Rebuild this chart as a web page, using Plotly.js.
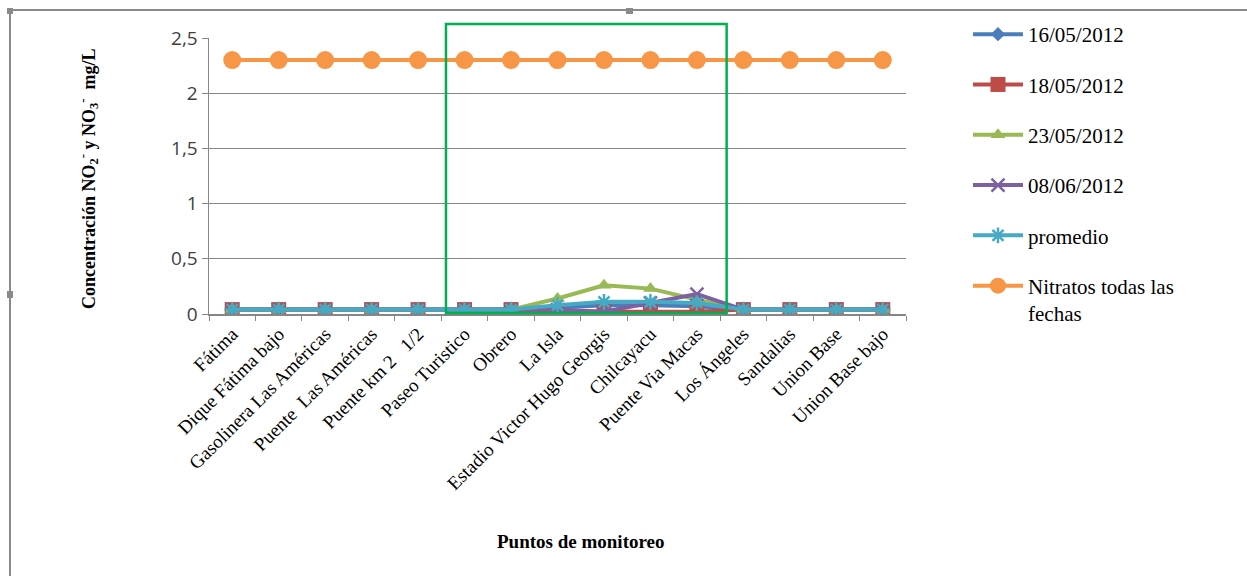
<!DOCTYPE html>
<html><head><meta charset="utf-8">
<script src="https://cdn.plot.ly/plotly-3.0.1.min.js"></script>
<style>html,body{margin:0;padding:0;background:#fff}</style>
</head><body><div id="chart" style="width:1247px;height:576px"></div>
<script>
const categories = ["Fátima","Dique Fátima bajo","Gasolinera Las Américas","Puente\u00a0 Las Américas","Puente km 2 \u00a0 1/2","Paseo Turistico","Obrero","La Isla","Estadio Victor Hugo Georgis","Chilcayacu","Puente Via Macas","Los Ángeles","Sandalias","Union Base","Union Base bajo"];
const seriesNames = ["16/05/2012","18/05/2012","23/05/2012","08/06/2012","promedio","Nitratos todas las<br>fechas"];
const d16 = [0.04,0.04,0.04,0.04,0.04,0.04,0.04,0.06,0.08,0.08,0.07,0.04,0.04,0.04,0.04];
const d18 = [0.04,0.04,0.04,0.04,0.04,0.04,0.04,0.02,0.02,0.02,0.02,0.04,0.04,0.04,0.04];
const d23 = [0.04,0.04,0.04,0.04,0.04,0.04,0.04,0.14,0.26,0.23,0.13,0.04,0.04,0.04,0.04];
const d08 = [0.04,0.04,0.04,0.04,0.04,0.04,0.04,0.04,0.02,0.10,0.18,0.04,0.04,0.04,0.04];
const promedio = [0.04,0.04,0.04,0.04,0.04,0.04,0.04,0.08,0.11,0.11,0.10,0.04,0.04,0.04,0.04];
const nitratos = [2.3,2.3,2.3,2.3,2.3,2.3,2.3,2.3,2.3,2.3,2.3,2.3,2.3,2.3,2.3];
const yTicks = [0,0.5,1,1.5,2,2.5];

const colors = ["#4A7EBB","#BE4B48","#98B954","#7D60A0","#46AAC5","#F79646"];
const symbols = ["diamond","square","triangle-up","x-thin-open","asterisk-open","circle"];
const sizes = [11,15,13,13,13,18];
const data = [d16,d18,d23,d08,promedio,nitratos];

const traces = data.map((ys,i)=>({
  type:"scatter", mode:"lines+markers", x:categories, y:ys, name:seriesNames[i],
  legendgroup:"g"+i,
  line:{color:colors[i], width:4},
  marker:{symbol:symbols[i], size:sizes[i], color:colors[i],
          line:{color:colors[i], width:(i===3||i===4)?2.5:0}}
}));

const L=209, R=906, T=38, B=314, W=1247, H=576;
const px = x => (x-L)/(R-L);
const py = y => (B-y)/(B-T);

const layout = {
  width:W, height:H,
  margin:{l:L, r:W-R, t:T, b:H-B},
  paper_bgcolor:"#fff", plot_bgcolor:"#fff",
  separators:",.",
  showlegend:true,
  legend:{xref:"container", yref:"container", x:968/W, y:1-14/H, xanchor:"left", yanchor:"top",
          font:{family:"Liberation Serif", size:21, color:"#000"}, maxheight:400,
          traceorder:"grouped", tracegroupgap:20, itemwidth:50, valign:"top", bgcolor:"rgba(0,0,0,0)"},
  xaxis:{type:"category", range:[-0.5,14.5], tickangle:-45, tickson:"boundaries",
         ticks:"outside", ticklen:5, tickcolor:"#868686", showline:true, linecolor:"#868686", linewidth:1.5,
         showgrid:false, zeroline:false, automargin:false,
         tickfont:{family:"Liberation Serif", size:19, color:"#000"}},
  yaxis:{range:[0,2.5], tickvals:yTicks, ticks:"outside", ticklen:6, tickcolor:"#868686",
         showline:true, linecolor:"#868686", linewidth:1.5, showgrid:true, gridcolor:"#868686", gridwidth:1,
         zeroline:false, automargin:false,
         tickfont:{family:"Open Sans, Liberation Sans", size:19, color:"#404040"}},
  annotations:[
    {text:"<b>Concentración NO<sub>2</sub><sup>-</sup> y NO<sub>3</sub><sup>-</sup>  mg/L</b>", xref:"paper", yref:"paper",
     x:px(88), y:py(178), textangle:-90, showarrow:false, xanchor:"center", yanchor:"middle",
     font:{family:"Liberation Serif", size:18, color:"#000"}},
    {text:"<b>Puntos de monitoreo</b>", xref:"paper", yref:"paper", x:px(580), y:py(541),
     showarrow:false, xanchor:"center", yanchor:"middle",
     font:{family:"Liberation Serif", size:19, color:"#000"}}
  ],
  shapes:[
    {type:"rect", xref:"x", yref:"paper", x0:4.6, x1:10.64, y0:py(313), y1:py(24), line:{color:"#00B050", width:2.5}, layer:"above"},
    {type:"line", xref:"paper", yref:"paper", x0:px(10), x1:px(1247), y0:py(10), y1:py(10), line:{color:"#8a8a8a", width:2}},
    {type:"line", xref:"paper", yref:"paper", x0:px(10), x1:px(10), y0:py(10), y1:py(576), line:{color:"#8a8a8a", width:2}},
    {type:"rect", xref:"paper", yref:"paper", x0:px(626), x1:px(633), y0:py(8), y1:py(14), fillcolor:"#8a8a8a", line:{width:0}},
    {type:"rect", xref:"paper", yref:"paper", x0:px(7), x1:px(13), y0:py(291), y1:py(298), fillcolor:"#8a8a8a", line:{width:0}},
    {type:"rect", xref:"paper", yref:"paper", x0:px(7), x1:px(13), y0:py(8), y1:py(14), fillcolor:"#8a8a8a", line:{width:0}}
  ]
};
Plotly.newPlot("chart", traces, layout, {displayModeBar:false, staticPlot:true});
</script></body></html>
